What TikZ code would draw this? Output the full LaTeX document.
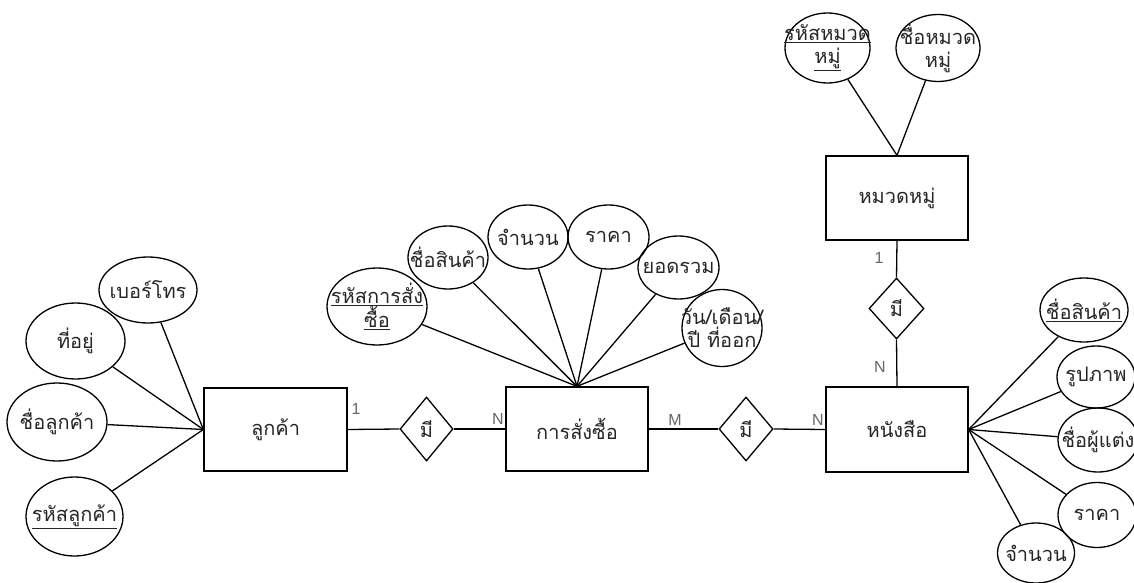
\documentclass[tikz,border=0pt]{standalone}
\usepackage{fontspec}
\newfontfamily\thaifont[Script=Thai]{Loma}
\newfontfamily\latinsans{Liberation Sans}
\usetikzlibrary{shapes.geometric}

\tikzset{
  every node/.style={font=\thaifont\fontsize{20}{23}\selectfont, text=black!85, align=center},
  entity/.style={draw, line width=1.3pt, rectangle, inner sep=0pt},
  attr/.style={draw, line width=1.3pt, ellipse, inner sep=0pt},
  % attribute text is set as a centred label so it never widens the ellipse
  atext/.style={label={[inner sep=0pt]center:#1}},
  rel/.style={draw, line width=1.3pt, diamond, inner sep=0pt},
  link/.style={line width=1.3pt},
  card/.style={font=\latinsans\fontsize{16}{18}\selectfont, text=black!60}
}

\begin{document}
\begin{tikzpicture}[x=1pt, y=-1pt]
  \useasboundingbox (0,0) rectangle (1134,583);
  \clip (0,0) rectangle (1134,583);

  % entities
  \node[entity, minimum width=143pt, minimum height=83pt] (cust) at (275.5,429.5) {ลูกค้า};
  \node[entity, minimum width=142pt, minimum height=84pt] (order) at (577,429) {การสั่งซื้อ};
  \node[entity, minimum width=142pt, minimum height=85pt] (book) at (897,429.5) {หนังสือ};
  \node[entity, minimum width=142pt, minimum height=84pt] (cat) at (897,198) {หมวดหมู่};

  % relationships
  \node[rel, minimum width=53pt, minimum height=64pt] (r1) at (426.5,429) {มี};
  \node[rel, minimum width=54pt, minimum height=64pt] (r2) at (746,429) {มี};
  \node[rel, minimum width=55pt, minimum height=61pt] (r3) at (896.5,308.5) {มี};

  % customer attributes
  \node[attr, minimum width=98pt, minimum height=66pt, atext={เบอร์โทร}] (tel) at (148,290) {};
  \node[attr, minimum width=99pt, minimum height=76pt, atext={ที่อยู่}] (addr) at (75.5,341) {};
  \node[attr, minimum width=100pt, minimum height=78pt, atext={ชื่อลูกค้า}] (cname) at (57,422) {};
  \node[attr, minimum width=97pt, minimum height=79pt, atext={\underline{รหัสลูกค้า}}] (cid) at (74.5,516.5) {};

  % order attributes
  \node[attr, minimum width=100pt, minimum height=77pt, atext={\underline{รหัสการสั่ง}\\\underline{ซื้อ}}] (oid) at (377,306.5) {};
  \node[attr, minimum width=80pt, minimum height=63pt, atext={ชื่อสินค้า}] (pname) at (448,257.5) {};
  \node[attr, minimum width=80pt, minimum height=64pt, atext={จำนวน}] (qty) at (528,237) {};
  \node[attr, minimum width=81pt, minimum height=64pt, atext={ราคา}] (price) at (608.5,237) {};
  \node[attr, minimum width=81pt, minimum height=63pt, atext={ยอดรวม}] (total) at (678.5,267.5) {};
  \node[attr, minimum width=80pt, minimum height=77pt, atext={วัน/เดือน/\\ปี ที่ออก}] (date) at (722,328) {};

  % category attributes
  \node[attr, minimum width=85pt, minimum height=70pt, atext={\underline{รหัสหมวด}\\\underline{หมู่}}] (catid) at (827.5,48) {};
  \node[attr, minimum width=84pt, minimum height=67pt, atext={ชื่อหมวด\\หมู่}] (catname) at (938,48) {};

  % book attributes
  \node[attr, minimum width=88pt, minimum height=64pt, atext={\underline{ชื่อสินค้า}}] (bname) at (1084,310) {};
  \node[attr, minimum width=78pt, minimum height=62pt, atext={รูปภาพ}] (img) at (1096,377) {};
  \node[attr, minimum width=80pt, minimum height=64pt, atext={ชื่อผู้แต่ง}] (author) at (1098,440) {};
  \node[attr, minimum width=78pt, minimum height=65pt, atext={ราคา}] (bprice) at (1097,515) {};
  \node[attr, minimum width=77pt, minimum height=60pt, atext={จำนวน}] (bqty) at (1036,553) {};

  % attribute links
  \foreach \a in {tel,addr,cname,cid} \draw[link] (\a) -- (cust.west);
  \foreach \a in {oid,pname,qty,price,total,date} \draw[link] (\a) -- (order.north);
  \foreach \a in {catid,catname} \draw[link] (\a) -- (cat.north);
  \foreach \a in {bname,img,author,bprice,bqty} \draw[link] (\a) -- (book.east);

  % relationship links
  \draw[link] (cust.east) -- (r1.west);
  \draw[link] (r1.east) -- (order.west);
  \draw[link] (order.east) -- (r2.west);
  \draw[link] (r2.east) -- (book.west);
  \draw[link] (cat.south) -- (r3.north);
  \draw[link] (r3.south) -- (book.north);

  % cardinalities
  \node[card] (c1) at (356,409) {1};
  \node[card] (c2) at (498,419) {N};
  \node[card] (c3) at (675,420) {M};
  \node[card] (c4) at (818,420) {N};
  \node[card] (c5) at (879,258) {1};
  \node[card] (c6) at (880,367) {N};
\end{tikzpicture}
\end{document}
